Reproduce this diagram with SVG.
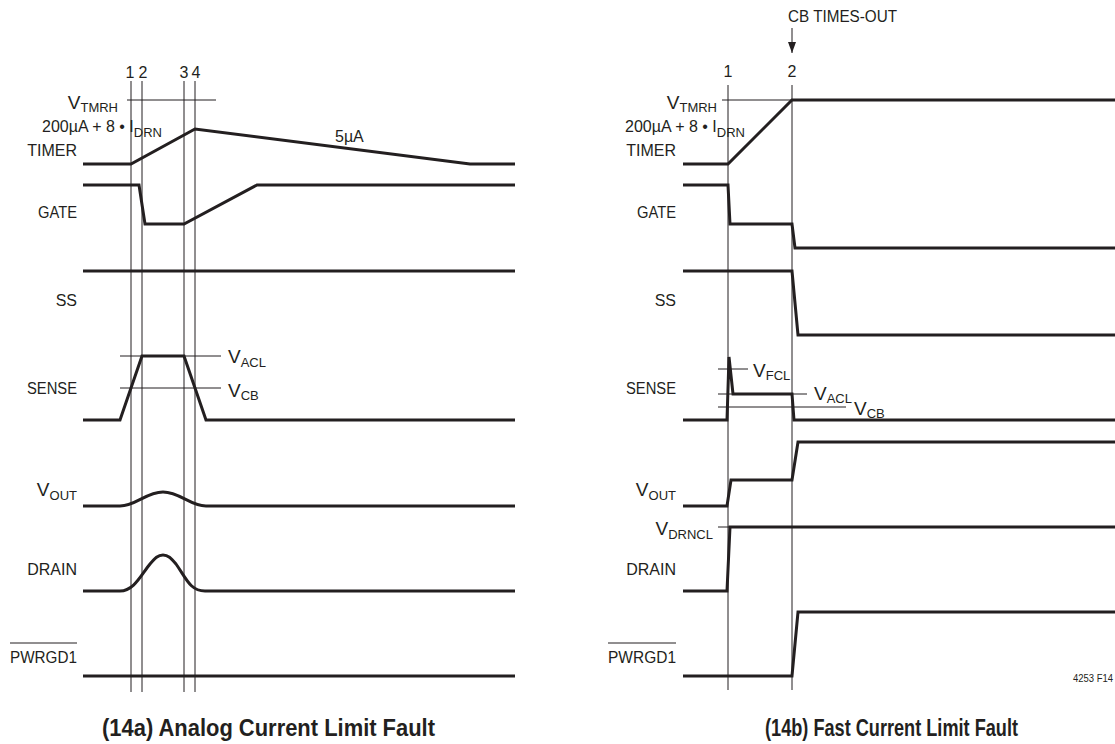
<svg xmlns="http://www.w3.org/2000/svg" width="1115" height="744" viewBox="0 0 1115 744">
<defs>
<style>
text{font-family:"Liberation Sans",Arial,sans-serif;fill:#231f20}
.l{font-size:16px}
.v{font-size:19px}
.s{font-size:13px}
.e{text-anchor:end}
.m{text-anchor:middle}
.cap{font-size:24px;font-weight:bold}
.w{fill:none;stroke:#231f20;stroke-width:3;stroke-linejoin:miter}
.t{fill:none;stroke:#231f20;stroke-width:1}
</style>
<marker id="ah" markerWidth="12" markerHeight="8" refX="11" refY="4" orient="auto" markerUnits="userSpaceOnUse">
<path d="M0,0 L11,4 L0,8 Z" fill="#231f20"/>
</marker>
</defs>
<rect width="1115" height="744" fill="#fff"/>

<!-- ===== Panel (14a) ===== -->
<g id="a-markers">
<text class="l m" x="130" y="78">1</text>
<text class="l m" x="143" y="78">2</text>
<text class="l m" x="184" y="78">3</text>
<text class="l m" x="196" y="78">4</text>
</g>
<g id="a-grid">
<line class="t" x1="131" y1="81" x2="131" y2="692"/>
<line class="t" x1="142" y1="81" x2="142" y2="692"/>
<line class="t" x1="184" y1="81" x2="184" y2="692"/>
<line class="t" x1="195" y1="81" x2="195" y2="692"/>
<line class="t" x1="127" y1="100" x2="216" y2="100"/>
<line class="t" x1="120" y1="356" x2="221" y2="356"/>
<line class="t" x1="120" y1="388" x2="221" y2="388"/>
</g>
<g id="a-timer">
<text class="l v e" x="118" y="109">V<tspan class="s" dy="3">TMRH</tspan></text>
<text class="l" x="42" y="132">200µA + 8 • I<tspan class="s" dy="5">DRN</tspan></text>
<text class="l e" x="77" y="156">TIMER</text>
<text class="l" x="335" y="142">5µA</text>
<path class="w" d="M83,164 L131,164 L195,129 L470,164 L515,164"/>
</g>
<g id="a-gate">
<text class="l" x="38" y="218" textLength="39" lengthAdjust="spacingAndGlyphs">GATE</text>
<path class="w" d="M83,185 L139,185 L145,224 L184,224 L257,185 L515,185"/>
</g>
<g id="a-ss">
<text class="l e" x="77" y="306">SS</text>
<path class="w" d="M83,271 L515,271"/>
</g>
<g id="a-sense">
<text class="l" x="27" y="394" textLength="50" lengthAdjust="spacingAndGlyphs">SENSE</text>
<text class="v" x="228" y="363">V<tspan class="s" dy="4">ACL</tspan></text>
<text class="v" x="228" y="397">V<tspan class="s" dy="3">CB</tspan></text>
<path class="w" d="M83,420 L120,420 L142,356 L184,356 L206,420 L515,420"/>
</g>
<g id="a-vout">
<text class="v e" x="77" y="496">V<tspan class="s" dy="4">OUT</tspan></text>
<path class="w" d="M83,506 L120,506 C136,506 146,492 163,492 C180,492 190,506 206,506 L515,506"/>
</g>
<g id="a-drain">
<text class="l e" x="77" y="575">DRAIN</text>
<path class="w" d="M83,591 L120,591 C134,591 141,575 150,564 C155,558 158,555 163,555 C168,555 171,558 176,564 C186,578 190,591 205,591 L515,591"/>
</g>
<g id="a-pwrgd">
<text class="l" x="10" y="663" textLength="67" lengthAdjust="spacingAndGlyphs">PWRGD1</text>
<line class="t" x1="10" y1="643" x2="77" y2="643"/>
<path class="w" d="M83,676 L515,676"/>
</g>
<text id="a-caption" class="cap" x="102" y="736" textLength="333" lengthAdjust="spacingAndGlyphs">(14a) Analog Current Limit Fault</text>

<!-- ===== Panel (14b) ===== -->
<g id="b-markers">
<text class="l" x="788" y="22" textLength="109" lengthAdjust="spacingAndGlyphs">CB TIMES-OUT</text>
<line class="t" x1="792" y1="28" x2="792" y2="53" marker-end="url(#ah)"/>
<text class="l m" x="728" y="77">1</text>
<text class="l m" x="792" y="77">2</text>
</g>
<g id="b-grid">
<line class="t" x1="728" y1="85" x2="728" y2="690"/>
<line class="t" x1="792" y1="85" x2="792" y2="690"/>
<line class="t" x1="722" y1="100" x2="792" y2="100"/>
<line class="t" x1="718" y1="369" x2="748" y2="369"/>
<line class="t" x1="718" y1="394" x2="807" y2="394"/>
<line class="t" x1="718" y1="407" x2="846" y2="407"/>
<line class="t" x1="718" y1="527" x2="732" y2="527"/>
</g>
<g id="b-timer">
<text class="v e" x="717" y="109">V<tspan class="s" dy="3">TMRH</tspan></text>
<text class="l" x="625" y="132">200µA + 8 • I<tspan class="s" dy="5">DRN</tspan></text>
<text class="l e" x="676" y="156">TIMER</text>
<path class="w" d="M683,164 L728,164 L792,100 L1115,100"/>
</g>
<g id="b-gate">
<text class="l" x="637" y="218" textLength="39" lengthAdjust="spacingAndGlyphs">GATE</text>
<path class="w" d="M683,185 L728,185 L730,224 L792,224 L795,248 L1115,248"/>
</g>
<g id="b-ss">
<text class="l e" x="676" y="306">SS</text>
<path class="w" d="M683,271 L792,271 L798,335 L1115,335"/>
</g>
<g id="b-sense">
<text class="l" x="626" y="394" textLength="50" lengthAdjust="spacingAndGlyphs">SENSE</text>
<text class="v" x="753" y="377">V<tspan class="s" dy="3">FCL</tspan></text>
<text class="v" x="814" y="400">V<tspan class="s" dy="3">ACL</tspan></text>
<text class="v" x="854" y="415">V<tspan class="s" dy="3">CB</tspan></text>
<path class="w" d="M683,420 L727,420 L729,357 L733,394 L792,394 L794,420 L1115,420"/>
</g>
<g id="b-vout">
<text class="v e" x="676" y="496">V<tspan class="s" dy="4">OUT</tspan></text>
<path class="w" d="M683,506 L727,506 L731,480 L792,480 L798,442 L1115,442"/>
</g>
<g id="b-drain">
<text class="v e" x="713" y="535">V<tspan class="s" dy="4">DRNCL</tspan></text>
<text class="l e" x="676" y="575">DRAIN</text>
<path class="w" d="M683,591 L727,591 L730,527 L1115,527"/>
</g>
<g id="b-pwrgd">
<text class="l" x="608" y="663" textLength="68" lengthAdjust="spacingAndGlyphs">PWRGD1</text>
<line class="t" x1="608" y1="643" x2="676" y2="643"/>
<path class="w" d="M683,676 L792,676 L798,612 L1115,612"/>
</g>
<text id="figno" x="1113" y="682" class="e" style="font-size:10px" textLength="40" lengthAdjust="spacingAndGlyphs">4253 F14</text>
<text id="b-caption" class="cap" x="765" y="736" textLength="253" lengthAdjust="spacingAndGlyphs">(14b) Fast Current Limit Fault</text>
</svg>
